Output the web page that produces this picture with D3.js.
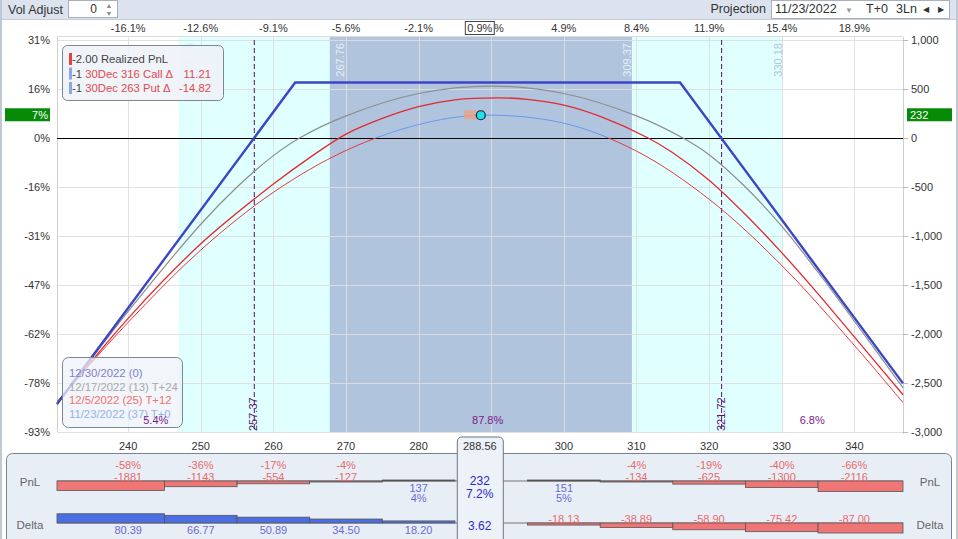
<!DOCTYPE html>
<html><head><meta charset="utf-8">
<script src="https://cdn.jsdelivr.net/npm/d3@7"></script>
<style>body{margin:0;background:#fff;} svg{display:block;font-family:"Liberation Sans",Arial,sans-serif;}</style>
</head><body><svg id="c" width="958" height="539"></svg>
<script>
// ---------- data ----------
const priceTicks = [240,250,260,270,280,290,300,310,320,330,340];
const pctTopLabels = ["-16.1%","-12.6%","-9.1%","-5.6%","-2.1%","1.4%","4.9%","8.4%","11.9%","15.4%","18.9%"];
const pnlTicks = [1000,500,0,-500,-1000,-1500,-2000,-2500,-3000];
const pnlTickLabels = ["1,000","500","0","-500","-1,000","-1,500","-2,000","-2,500","-3,000"];
const pnlPctLabels = ["31%","16%","0%","-16%","-31%","-47%","-62%","-78%","-93%"];
const currentPrice = 288.56, currentPnl = 232, currentPct = "7.2%", currentDelta = "3.62", currentTopPct = "0.9%", currentLeftPct = "7%";
const priceRange = [230.2, 346.7];
const sigmaBands = [246.94, 267.76, 309.37, 330.18];
const breakevens = [257.37, 321.72];
const probLabels = [[243.8,"5.4%"],[289.5,"87.8%"],[334.2,"6.8%"]];
const expiryCurve = [[230.2,-2714],[263,566],[316,566],[346.7,-2504]];
const t24Curve = [[230.2,-2718],[240,-1770],[250,-880],[255,-500],[260,-180],[263.6,0],[270,226],[280,454],[290,530],[300,454],[310,226],[316.4,0],[320,-170],[325,-500],[330,-900],[335,-1370],[340,-1870],[346.7,-2550]];
const t12Curve = [[230.2,-2712],[240,-1840],[250,-1080],[260,-470],[265,-200],[270,40],[275,200],[280,320],[285,390],[290.8,410],[295,395],[300,335],[305,220],[311.6,0],[315,-150],[320,-430],[325,-780],[330,-1170],[335,-1590],[340,-2030],[346.7,-2620]];
const t0Curve = [[230.2,-2690],[240,-1881],[250,-1143],[260,-554],[270,-127],[280,137],[288.56,232],[300,151],[310,-134],[320,-625],[330,-1300],[340,-2116],[346.7,-2700]];
const tablePrices = [240,250,260,270,280,300,310,320,330,340];
const tablePnl = [-1881,-1143,-554,-127,137,151,-134,-625,-1300,-2116];
const tablePnlPct = ["-58%","-36%","-17%","-4%","4%","5%","-4%","-19%","-40%","-66%"];
const tableDelta = [80.39,66.77,50.89,34.50,18.20,-18.13,-38.89,-58.90,-75.42,-87.00];
const positions = [["-2.00 Realized PnL","","#e84040"],["-1 30Dec 316 Call Δ","11.21","#8aa6e4"],["-1 30Dec 263 Put Δ","-14.82","#8aa6e4"]];
const dateLegend = [["12/30/2022 (0)","#7b7fd0"],["12/17/2022 (13) T+24","#a8a8a8"],["12/5/2022 (25) T+12","#f07272"],["11/23/2022 (37) T+0","#94b2ea"]];

// ---------- setup ----------
const svg = d3.select("#c");
const X0=57, X1=903, Y0=40, Y1=432;
const x = d3.scaleLinear().domain(priceRange).range([X0,X1]);
const y = d3.scaleLinear().domain([1000,-3000]).range([Y0,Y1]);
const F = "#333";

// header
svg.append("rect").attr("x",0).attr("y",0).attr("width",958).attr("height",19).attr("fill","#dce3ee");
svg.append("rect").attr("x",0).attr("y",19).attr("width",958).attr("height",434).attr("fill","#fff");
svg.append("line").attr("x1",0).attr("x2",958).attr("y1",19.5).attr("y2",19.5).attr("stroke","#c5cdd8");
svg.append("rect").attr("x",0).attr("y",0).attr("width",2).attr("height",539).attr("fill","#c0c8d2");
svg.append("rect").attr("x",956).attr("y",0).attr("width",2).attr("height",539).attr("fill","#c0c8d2");
svg.append("text").attr("x",8).attr("y",13.5).attr("font-size",12.5).attr("fill",F).text("Vol Adjust");
svg.append("rect").attr("x",68.5).attr("y",0.5).attr("width",49).attr("height",17).attr("fill","#fff").attr("stroke","#a8b0bc");
svg.append("text").attr("x",97).attr("y",13).attr("font-size",12).attr("text-anchor","end").attr("fill",F).text("0");
svg.append("text").attr("x",109).attr("y",8).attr("font-size",7).attr("text-anchor","middle").attr("fill","#888").text("▲");
svg.append("text").attr("x",109).attr("y",16).attr("font-size",7).attr("text-anchor","middle").attr("fill","#888").text("▼");
svg.append("text").attr("x",766).attr("y",13).attr("font-size",12.5).attr("text-anchor","end").attr("fill",F).text("Projection");
svg.append("rect").attr("x",771.5).attr("y",0.5).attr("width",178).attr("height",18).attr("fill","#fff").attr("stroke","#a8b0bc");
svg.append("text").attr("x",775).attr("y",13).attr("font-size",12.5).attr("fill",F).text("11/23/2022");
svg.append("text").attr("x",849).attr("y",13).attr("font-size",8).attr("text-anchor","middle").attr("fill","#999").text("▼");
svg.append("text").attr("x",866).attr("y",13).attr("font-size",12.5).attr("fill",F).text("T+0");
svg.append("text").attr("x",896).attr("y",13).attr("font-size",12.5).attr("fill",F).text("3Ln");
svg.append("text").attr("x",926).attr("y",12).attr("font-size",8).attr("text-anchor","middle").attr("fill",F).text("◀");
svg.append("text").attr("x",941).attr("y",12).attr("font-size",8).attr("text-anchor","middle").attr("fill",F).text("▶");

// shaded regions
svg.append("rect").attr("x",x(sigmaBands[0])).attr("y",37).attr("width",x(sigmaBands[3])-x(sigmaBands[0])).attr("height",Y1-37).attr("fill","#e0ffff");
svg.append("rect").attr("x",x(sigmaBands[1])).attr("y",37).attr("width",x(sigmaBands[2])-x(sigmaBands[1])).attr("height",Y1-37).attr("fill","#b0c4de");

// grid
svg.append("g").selectAll("line").data(pnlTicks).join("line")
  .attr("x1",X0).attr("x2",X1).attr("y1",d=>Math.round(y(d))+0.5).attr("y2",d=>Math.round(y(d))+0.5).attr("stroke","#dedede").attr("stroke-opacity",0.9);
svg.append("g").selectAll("line").data(priceTicks).join("line")
  .attr("x1",d=>Math.round(x(d))+0.5).attr("x2",d=>Math.round(x(d))+0.5).attr("y1",37).attr("y2",Y1).attr("stroke","#dedede").attr("stroke-opacity",0.9);
svg.append("line").attr("x1",X0+0.5).attr("x2",X0+0.5).attr("y1",37).attr("y2",Y1).attr("stroke","#cfcfcf");
svg.append("line").attr("x1",X1+0.5).attr("x2",X1+0.5).attr("y1",37).attr("y2",Y1+2).attr("stroke","#cfcfcf");
svg.append("line").attr("x1",X0).attr("x2",X1).attr("y1",36.5).attr("y2",36.5).attr("stroke","#dcdcdc");

// band labels
const bandColors = ["#c6ecf2","#e6ecf6","#e6ecf6","#b4c6d8"];
sigmaBands.forEach((v,i)=>{
  const xx = (i===0||i===1)? x(v)+14 : x(v)-1;
  svg.append("text").attr("transform",`translate(${xx},43) rotate(-90)`).attr("text-anchor","end")
    .attr("font-size",11).attr("fill",bandColors[i]).text(v.toFixed(2));
});

// breakevens
breakevens.forEach(v=>{
  svg.append("line").attr("x1",x(v)).attr("x2",x(v)).attr("y1",Y0).attr("y2",Y1).attr("stroke","#5a1070").attr("stroke-width",1).attr("stroke-dasharray","5,3");
  svg.append("text").attr("transform",`translate(${x(v)+3},431) rotate(-90)`).attr("font-size",11).attr("fill","#5a1070").text(v.toFixed(2));
});

// zero line
svg.append("line").attr("x1",X0).attr("x2",X1).attr("y1",Math.round(y(0))+0.5).attr("y2",Math.round(y(0))+0.5).attr("stroke","#000");

// curves
const line = d3.line().x(d=>x(d[0])).y(d=>y(d[1])).curve(d3.curveCatmullRom.alpha(0.5));
const lineL = d3.line().x(d=>x(d[0])).y(d=>y(d[1]));
const defs = svg.append("defs");
defs.append("clipPath").attr("id","above").append("rect").attr("x",X0).attr("y",Y0-10).attr("width",X1-X0).attr("height",y(0)-Y0+10);
defs.append("clipPath").attr("id","below").append("rect").attr("x",X0).attr("y",y(0)).attr("width",X1-X0).attr("height",Y1-y(0)+10);
svg.append("path").attr("d",line(t0Curve)).attr("fill","none").attr("stroke","#e83838").attr("stroke-width",1).attr("clip-path","url(#below)");
svg.append("path").attr("d",line(t0Curve)).attr("fill","none").attr("stroke","#6a98ec").attr("stroke-width",1).attr("clip-path","url(#above)");
svg.append("path").attr("d",line(t12Curve)).attr("fill","none").attr("stroke","#e32a2e").attr("stroke-width",1.3);
svg.append("path").attr("d",line(t24Curve)).attr("fill","none").attr("stroke","#8e8e8e").attr("stroke-width",1.2);
svg.append("path").attr("d",lineL(expiryCurve)).attr("fill","none").attr("stroke","#3c46c4").attr("stroke-width",2.4);

// current point
svg.append("rect").attr("x",x(currentPrice)-17).attr("y",y(currentPnl)-5).attr("width",21).attr("height",9).attr("fill","#f0a080").attr("opacity",0.75);
svg.append("circle").attr("cx",x(currentPrice)).attr("cy",y(currentPnl)).attr("r",4.5).attr("fill","#1ee0f0").attr("stroke","#123").attr("stroke-width",1.2);

// left axis
svg.append("g").selectAll("text").data(pnlTicks).join("text")
  .attr("x",50).attr("y",d=>y(d)+4).attr("text-anchor","end").attr("font-size",11).attr("fill",F).text((d,i)=>pnlPctLabels[i]);
// right axis
const ra = svg.append("g");
ra.selectAll("line").data(pnlTicks).join("line").attr("x1",X1).attr("x2",X1+5).attr("y1",d=>Math.round(y(d))+0.5).attr("y2",d=>Math.round(y(d))+0.5).attr("stroke","#bbb");
ra.selectAll("text").data(pnlTicks).join("text")
  .attr("x",911).attr("y",d=>y(d)+4).attr("font-size",11).attr("fill",F).text((d,i)=>pnlTickLabels[i]);
// current value flags
svg.append("rect").attr("x",5).attr("y",y(currentPnl)-7).attr("width",45).attr("height",13).attr("fill","#078a07");
svg.append("text").attr("x",48).attr("y",y(currentPnl)+4).attr("text-anchor","end").attr("font-size",11).attr("fill","#fff").text(currentLeftPct);
svg.append("rect").attr("x",907).attr("y",y(currentPnl)-7).attr("width",45).attr("height",13).attr("fill","#078a07");
svg.append("text").attr("x",910).attr("y",y(currentPnl)+4).attr("font-size",11).attr("fill","#fff").text(String(currentPnl));

// top axis
svg.append("g").selectAll("text").data(priceTicks).join("text")
  .attr("x",d=>x(d)).attr("y",32).attr("text-anchor","middle").attr("font-size",11).attr("fill",F).text((d,i)=>pctTopLabels[i]);
svg.append("rect").attr("x",x(currentPrice)-15.5).attr("y",21.5).attr("width",29).attr("height",13).attr("fill","#fff").attr("stroke","#444");
svg.append("text").attr("x",x(currentPrice)-1).attr("y",32).attr("text-anchor","middle").attr("font-size",11).attr("fill",F).text(currentTopPct);

// bottom axis
svg.append("g").selectAll("text").data(priceTicks.filter(d=>d!==290)).join("text")
  .attr("x",d=>x(d)).attr("y",450).attr("text-anchor","middle").attr("font-size",11).attr("fill",F).text(d=>d);

// legends
const lg1 = svg.append("g");
lg1.append("rect").attr("x",62.5).attr("y",45.5).attr("width",161).attr("height",55).attr("rx",5).attr("fill","#eef2f7").attr("fill-opacity",0.9).attr("stroke","#7d8794");
positions.forEach((p,i)=>{
  const yy = 63 + i*14.5;
  lg1.append("rect").attr("x",69).attr("y",yy-10).attr("width",3).attr("height",12).attr("fill",p[2]);
  const t = lg1.append("text").attr("x",72).attr("y",yy).attr("font-size",11.3);
  if(i===0){ t.attr("fill","#444").text(p[0]); }
  else {
    t.append("tspan").attr("fill","#444").text("-1 ");
    t.append("tspan").attr("fill","#e04a50").text(p[0].slice(3));
    lg1.append("text").attr("x",211).attr("y",yy).attr("text-anchor","end").attr("font-size",11.3).attr("fill","#e04a50").text(p[1]);
  }
});
const lg2 = svg.append("g");
lg2.append("rect").attr("x",62.5).attr("y",357.5).attr("width",120).attr("height",70).attr("rx",6).attr("fill","#eef2f7").attr("fill-opacity",0.75).attr("stroke","#7d8794");
dateLegend.forEach((d,i)=>{
  lg2.append("text").attr("x",69).attr("y",377+i*13.5).attr("font-size",11.3).attr("fill",d[1]).text(d[0]);
});

// prob labels
probLabels.forEach(p=>{
  svg.append("text").attr("x",x(p[0])).attr("y",424).attr("text-anchor","middle").attr("font-size",11).attr("fill","#7a1a8a").text(p[1]);
});

// ---------- bottom panel ----------
const bp = svg.append("g");
bp.append("rect").attr("x",6.5).attr("y",453.5).attr("width",945).attr("height",100).attr("rx",6).attr("fill","#e8eef6").attr("stroke","#7a8490");
const pnlBase = 481, dBase = 523;
const hP = d3.scaleLinear().domain([0,2000]).range([0,10]);
const hD = d3.scaleLinear().domain([0,87]).range([0,10]);
const bx0 = (p,i)=> i===0 ? X0 : x(p-5);
const bx1 = (p,i)=> i===tablePrices.length-1 ? X1 : x(p+5);
bp.append("line").attr("x1",X0).attr("x2",X1).attr("y1",pnlBase).attr("y2",pnlBase).attr("stroke","#555").attr("stroke-width",0.8);
bp.append("line").attr("x1",X0).attr("x2",X1).attr("y1",dBase).attr("y2",dBase).attr("stroke","#555").attr("stroke-width",0.8);
tablePrices.forEach((p,i)=>{
  const v = tablePnl[i], h = Math.max(hP(Math.abs(v)),1);
  bp.append("rect").attr("x",bx0(p,i)).attr("width",bx1(p,i)-bx0(p,i)).attr("y",v<0?pnlBase:pnlBase-h).attr("height",h)
    .attr("fill",v<0?"#f07676":"#555").attr("stroke","#555").attr("stroke-width",0.8);
  if(v<0){
    bp.append("text").attr("x",x(p)).attr("y",469).attr("text-anchor","middle").attr("font-size",11).attr("fill","#e86a6a").text(tablePnlPct[i]);
    bp.append("text").attr("x",x(p)).attr("y",480.5).attr("text-anchor","middle").attr("font-size",11).attr("fill","#e86a6a").text(v);
  } else {
    bp.append("text").attr("x",x(p)).attr("y",492).attr("text-anchor","middle").attr("font-size",11).attr("fill","#6a6ad8").text(v);
    bp.append("text").attr("x",x(p)).attr("y",502).attr("text-anchor","middle").attr("font-size",11).attr("fill","#6a6ad8").text(tablePnlPct[i]);
  }
  const d = tableDelta[i], hd = hD(Math.abs(d));
  bp.append("rect").attr("x",bx0(p,i)).attr("width",bx1(p,i)-bx0(p,i)).attr("y",d<0?dBase:dBase-hd).attr("height",hd)
    .attr("fill",d<0?"#f07676":"#4b6ee2").attr("stroke","#555").attr("stroke-width",0.8);
  bp.append("text").attr("x",x(p)).attr("y",d<0?523:534).attr("text-anchor","middle").attr("font-size",11)
    .attr("fill",d<0?"#e86a6a":"#6a6ad8").text(d.toFixed(2));
});
[["PnL",486],["Delta",529]].forEach(r=>{
  bp.append("text").attr("x",30).attr("y",r[1]).attr("text-anchor","middle").attr("font-size",11.5).attr("fill","#666").text(r[0]);
  bp.append("text").attr("x",930).attr("y",r[1]).attr("text-anchor","middle").attr("font-size",11.5).attr("fill","#666").text(r[0]);
});
// current column box
const cx = x(currentPrice);
bp.append("path").attr("d",`M${cx-23.5},545 V442 q0,-5 5,-5 H${cx+17.5} q5,0 5,5 V545`).attr("fill","#edf1f8").attr("stroke","#6c7684");
bp.append("text").attr("x",cx-1).attr("y",450).attr("text-anchor","middle").attr("font-size",11).attr("fill",F).text(currentPrice.toFixed(2));
bp.append("text").attr("x",cx-1).attr("y",485).attr("text-anchor","middle").attr("font-size",12).attr("fill","#2b2bc8").text(currentPnl);
bp.append("text").attr("x",cx-1).attr("y",498).attr("text-anchor","middle").attr("font-size",12).attr("fill","#2b2bc8").text(currentPct);
bp.append("text").attr("x",cx-1).attr("y",530).attr("text-anchor","middle").attr("font-size",12).attr("fill","#2b2bc8").text(currentDelta);
</script></body></html>
